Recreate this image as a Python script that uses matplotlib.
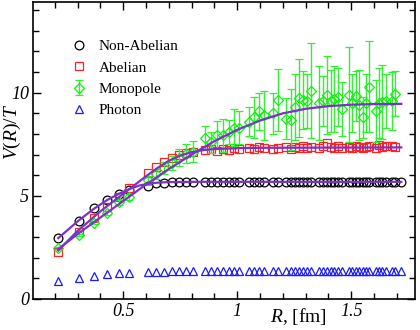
import numpy as np
import matplotlib
matplotlib.use('Agg')
import matplotlib.pyplot as plt

plt.rcParams['font.family'] = ['Liberation Serif', 'DejaVu Serif']
plt.rcParams['mathtext.fontset'] = 'custom'
plt.rcParams['mathtext.it'] = 'Liberation Serif:italic'
plt.rcParams['mathtext.rm'] = 'Liberation Serif'

# lattice distances R [fm]
R = [0.215, 0.304, 0.372, 0.430, 0.481, 0.527, 0.608, 0.645, 0.680, 0.713,
     0.745, 0.775, 0.804, 0.860, 0.886, 0.912, 0.937, 0.962, 0.985, 1.008,
     1.053, 1.075, 1.096, 1.117, 1.158, 1.178, 1.216, 1.235, 1.254, 1.272,
     1.290, 1.308, 1.325, 1.360, 1.377, 1.393, 1.410, 1.426, 1.442, 1.458,
     1.490, 1.505, 1.520, 1.535, 1.550, 1.565, 1.580, 1.609, 1.623, 1.637,
     1.651, 1.679, 1.693, 1.720]

v_nonab = [2.95, 3.80, 4.40, 4.80, 5.10, 5.30, 5.50, 5.60, 5.63, 5.65,
           5.66, 5.66, 5.67, 5.66, 5.67, 5.66, 5.68, 5.67, 5.66, 5.67,
           5.68, 5.67, 5.68, 5.66, 5.67, 5.68, 5.67, 5.68, 5.67, 5.66,
           5.68, 5.67, 5.68, 5.67, 5.66, 5.68, 5.67, 5.68, 5.67, 5.68,
           5.66, 5.67, 5.68, 5.67, 5.66, 5.68, 5.67, 5.68, 5.66, 5.67,
           5.68, 5.67, 5.66, 5.67]

v_abel = [2.28, 3.25, 3.93, 4.47, 4.95, 5.39, 6.10, 6.40, 6.65, 6.85,
          7.00, 7.10, 7.15, 7.20, 7.25, 7.18, 7.28, 7.22, 7.30, 7.25,
          7.32, 7.28, 7.35, 7.30, 7.25, 7.33, 7.38, 7.28, 7.35, 7.30,
          7.40, 7.32, 7.36, 7.30, 7.42, 7.55, 7.35, 7.30, 7.40, 7.33,
          7.38, 7.30, 7.42, 7.35, 7.30, 7.36, 7.40, 7.33, 7.45, 7.38,
          7.42, 7.40, 7.38]

v_mono = [2.47, 3.10, 3.70, 4.17, 4.70, 4.95, 5.75, 6.05, 6.35, 6.60,
          6.85, 7.05, 7.15, 7.80, 7.60, 7.95, 7.95, 8.10, 8.30, 8.30,
          8.60, 8.80, 9.10, 8.90, 9.00, 9.66, 8.75, 8.70, 9.30, 9.75,
          9.66, 9.60, 10.10, 9.50, 9.60, 9.90, 9.60, 9.70, 9.80, 9.20,
          9.90, 9.50, 9.85, 9.40, 8.80, 9.50, 10.30, 9.10, 9.50, 9.56,
          9.60, 9.60, 9.95]
e_mono = [0.05, 0.05, 0.08, 0.10, 0.12, 0.15, 0.20, 0.25, 0.30, 0.35,
          0.40, 0.45, 0.50, 0.60, 0.50, 0.70, 0.80, 0.60, 0.90, 0.80,
          0.70, 1.00, 0.90, 1.20, 1.00, 1.50, 1.00, 1.50, 1.60, 1.90,
          1.40, 1.30, 2.30, 1.80, 1.20, 1.90, 1.50, 1.60, 1.40, 1.30,
          2.30, 1.40, 1.20, 1.70, 1.00, 1.40, 2.20, 1.50, 1.70, 1.80,
          1.30, 1.40, 1.10]

v_photon = [0.87, 1.00, 1.13, 1.20, 1.25, 1.27, 1.32, 1.33, 1.33, 1.34,
            1.34, 1.34, 1.35, 1.35, 1.35, 1.35, 1.35, 1.36, 1.35, 1.36,
            1.36, 1.36, 1.35, 1.36, 1.36, 1.36, 1.36, 1.36, 1.35, 1.36,
            1.36, 1.36, 1.36, 1.36, 1.36, 1.37, 1.36, 1.36, 1.36, 1.36,
            1.36, 1.37, 1.36, 1.36, 1.36, 1.36, 1.37, 1.36, 1.36, 1.36,
            1.37, 1.36, 1.36, 1.36]

# fit curves
fit_r_na = [0.215, 0.304, 0.372, 0.43, 0.481, 0.527, 0.57, 0.608, 0.65, 0.70, 0.80, 1.72]
fit_v_na = [2.95, 3.80, 4.38, 4.80, 5.10, 5.33, 5.50, 5.58, 5.64, 5.67, 5.68, 5.68]
fit_r_ab = [0.215, 0.30, 0.40, 0.50, 0.60, 0.65, 0.70, 0.75, 0.80, 0.85, 0.90, 1.00, 1.10, 1.72]
fit_v_ab = [2.35, 3.30, 4.25, 5.10, 5.95, 6.35, 6.70, 6.95, 7.12, 7.22, 7.27, 7.31, 7.33, 7.35]
fit_r_mo = [0.215, 0.30, 0.40, 0.50, 0.60, 0.70, 0.80, 0.90, 1.00, 1.10, 1.20, 1.30, 1.40, 1.50, 1.60, 1.72]
fit_v_mo = [2.42, 3.15, 3.95, 4.75, 5.55, 6.30, 7.00, 7.65, 8.20, 8.65, 9.00, 9.22, 9.35, 9.42, 9.45, 9.46]

purple = '#7b32c8'

fig = plt.figure(figsize=(4.2, 3.3), dpi=100)
ax = fig.add_axes([0.079, 0.094, 0.909, 0.9])

ms = 6.3
h1, = ax.plot(R, v_nonab, 'o', mfc='none', mec='black', ms=ms, mew=0.9, label='Non-Abelian')
h2, = ax.plot(R[:len(v_abel)], v_abel, 's', mfc='none', mec='#ff2020', ms=ms, mew=0.9, label='Abelian')
h3 = ax.errorbar(R[:len(v_mono)], v_mono, yerr=e_mono, fmt='D', mfc='none', mec='#11ee11',
                 ecolor='#33ee33', elinewidth=1.0, capsize=3, capthick=1.0, ms=5.5, mew=0.9,
                 label='Monopole')
h4, = ax.plot(R, v_photon, '^', mfc='none', mec='#1a1aff', ms=ms, mew=0.9, label='Photon')

ax.plot(fit_r_na, fit_v_na, '-', color=purple, lw=1.6, zorder=5)
ax.plot(fit_r_ab, fit_v_ab, '-', color=purple, lw=1.6, zorder=5)
ax.plot(fit_r_mo, fit_v_mo, '-', color=purple, lw=1.6, zorder=5)

ax.set_xlim(0.105, 1.78)
ax.set_ylim(0, 14.4)
ax.set_xticks([0.5, 1.0, 1.5])
ax.set_xticklabels(['0.5', '1', '1.5'], fontstyle='italic', fontsize=13)
ax.set_xticks(np.arange(0.2, 1.75, 0.1), minor=True)
ax.set_yticks([0, 5, 10])
ax.set_yticklabels(['0', '5', '10'], fontstyle='italic', fontsize=13)
ax.set_yticks(np.arange(1, 15, 1), minor=True)
ax.tick_params(which='both', direction='in', top=True, right=True, width=1.0)
ax.tick_params(which='major', length=6, pad=3)
ax.tick_params(which='minor', length=4)
for s in ax.spines.values():
    s.set_linewidth(1.2)

ax.legend([h1, h2, h3, h4], ['Non-Abelian', 'Abelian', 'Monopole', 'Photon'],
          loc='upper left', bbox_to_anchor=(0.06, 0.92), frameon=False,
          fontsize=11, handletextpad=0.7, labelspacing=0.5, handlelength=1.2)

fig.text(0.71, 0.04, r'$R$, [fm]', ha='center', va='center', fontsize=14)
fig.text(0.03, 0.6, r'$V(R)/T$', ha='center', va='center', rotation=90, fontsize=14)

fig.savefig('out.png', dpi=100)
